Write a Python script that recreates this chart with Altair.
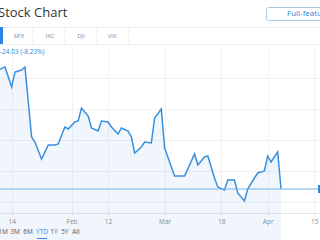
import altair as alt
import pandas as pd

FONT = "Open Sans"

TITLE = "Stock Chart"
BUTTON_TEXT = "Full-featured"
TABS = ["SPX", "IXC", "DJI", "VIX"]
CHANGE_TEXT = "-24.03 (-8.23%)"
RANGES = ["1M", "3M", "6M", "YTD", "1Y", "5Y", "All"]
SELECTED_RANGE = "YTD"

dates = [
    "2019-01-10", "2019-01-12", "2019-01-14", "2019-01-15", "2019-01-17", "2019-01-18",
    "2019-01-20", "2019-01-21", "2019-01-23", "2019-01-25", "2019-01-27", "2019-01-28",
    "2019-01-30", "2019-01-31", "2019-02-02", "2019-02-03", "2019-02-04", "2019-02-06",
    "2019-02-07", "2019-02-09", "2019-02-10", "2019-02-12", "2019-02-13", "2019-02-15",
    "2019-02-16", "2019-02-18", "2019-02-19", "2019-02-20", "2019-02-22", "2019-02-23",
    "2019-02-25", "2019-02-26", "2019-02-28", "2019-03-01", "2019-03-04", "2019-03-06",
    "2019-03-07", "2019-03-10", "2019-03-11", "2019-03-13", "2019-03-14", "2019-03-16",
    "2019-03-17", "2019-03-19", "2019-03-20", "2019-03-22", "2019-03-23", "2019-03-25",
    "2019-03-26", "2019-03-28", "2019-03-29", "2019-03-31", "2019-04-01", "2019-04-02",
    "2019-04-04", "2019-04-05",
]
prices = [
    307.74, 308.71, 302.26, 307.10, 307.74, 308.71,
    286.13, 284.52, 279.03, 283.55, 283.55, 283.87,
    289.35, 288.71, 290.97, 291.29, 295.48, 292.90,
    289.03, 288.06, 291.29, 290.97, 289.35, 287.10,
    289.03, 288.06, 286.13, 280.97, 282.90, 284.52,
    284.19, 292.26, 295.16, 282.58, 273.55, 273.55,
    273.55, 280.65, 277.10, 279.68, 280.00, 272.90,
    270.00, 269.03, 272.26, 272.26, 268.06, 265.48,
    269.35, 272.90, 274.52, 275.16, 280.00, 278.06,
    281.29, 269.35,
]
last_price = [prices[-1]]

tick_dates = ["2019-01-14", "2019-02-01", "2019-02-12", "2019-03-01",
              "2019-03-18", "2019-04-01", "2019-04-15"]
grid_prices = [265, 270, 275, 280, 285, 290, 295, 300, 305, 310]

df = pd.DataFrame({"date": dates, "price": prices})

LINE = "#3a8fdc"
BLUE = "#2a86e0"
W, H = 320, 166

xscale = alt.Scale(
    type="utc",
    domain=[alt.DateTime(year=2019, month=1, date=10, hours=11, minutes=50, utc=True),
            alt.DateTime(year=2019, month=4, date=16, hours=17, minutes=31, utc=True)],
)
yscale = alt.Scale(domain=[261.61, 315.16], zero=False, nice=False)

tick_vals = [alt.DateTime(year=int(d[:4]), month=int(d[5:7]), date=int(d[8:]), utc=True)
             for d in tick_dates]

x_enc = alt.X(
    "date:T", scale=xscale, title=None,
    axis=alt.Axis(
        values=tick_vals,
        labelExpr="utcdate(datum.value) == 1 ? utcFormat(datum.value, '%b') : utcFormat(datum.value, '%-d')",
        grid=True, gridColor="#eff2f7", gridWidth=1,
        tickColor="#e3e6ec", tickSize=3, domainColor="#e3e6ec",
        labelFontSize=6.5, labelColor="#8c8c8c", labelFont=FONT, labelPadding=2,
        labelFlush=False, labelOverlap=False,
    ),
)
y_enc = alt.Y(
    "price:Q", scale=yscale, title=None,
    axis=alt.Axis(values=grid_prices, grid=True, gridColor="#eff2f7", labels=False,
                  ticks=False, domain=False),
)

area = alt.Chart(df).mark_area(color=LINE, opacity=0.08).encode(x=x_enc, y=y_enc)
line = alt.Chart(df).mark_line(color=LINE, strokeWidth=1.5).encode(x="date:T", y="price:Q")
rule = alt.Chart(pd.DataFrame({"price": last_price})).mark_rule(
    color="#74b0e6", strokeWidth=1).encode(y="price:Q")
tag = alt.Chart(pd.DataFrame({"price": last_price})).mark_rect(color=BLUE).encode(
    x=alt.value(318), x2=alt.value(323), y=alt.value(138), y2=alt.value(146))


def text(s, x, y, size, color, align="left", weight="normal"):
    return alt.Chart(pd.DataFrame({"t": [s]})).mark_text(
        align=align, baseline="middle", font=FONT, fontSize=size, color=color,
        fontWeight=weight,
    ).encode(text="t:N", x=alt.value(x), y=alt.value(y))


def box(x, x2, y, y2, fill, stroke=None, radius=0):
    kw = dict(fill=fill, cornerRadius=radius)
    if stroke:
        kw["stroke"] = stroke
        kw["strokeWidth"] = 1
    return alt.Chart(pd.DataFrame({"k": [0]})).mark_rect(**kw).encode(
        x=alt.value(x), x2=alt.value(x2), y=alt.value(y), y2=alt.value(y2))


def hline(x, x2, y, color):
    return alt.Chart(pd.DataFrame({"k": [0]})).mark_rule(color=color, strokeWidth=1).encode(
        x=alt.value(x), x2=alt.value(x2), y=alt.value(y))


def vline(x, y, y2, color):
    return alt.Chart(pd.DataFrame({"k": [0]})).mark_rule(color=color, strokeWidth=1).encode(
        x=alt.value(x), y=alt.value(y), y2=alt.value(y2))


deco = [
    text(TITLE, -2, -34.5, 13, "#333333"),
    box(266.5, 330, -39.5, -26.5, "white", "#a8c9e8", 2),
    text(BUTTON_TEXT, 287, -33.5, 8, BLUE),
    hline(0, 320, -19.5, "#eceff3"),
    hline(0, 320, -2.5, "#eceff3"),
    box(-1, 3, -20, -3, BLUE),
    text(CHANGE_TEXT, 0, 5, 6.5, BLUE),
]
tab_x = [19, 50, 81, 112]
for s, xx in zip(TABS, tab_x):
    deco.append(text(s, xx, -11.5, 6, "#8a8a8a", align="center"))
for xx in [32.5, 64.5, 96.5, 128.5]:
    deco.append(vline(xx, -19.5, -2.5, "#f0f2f5"))
range_x = [3, 15, 28, 42, 54, 65, 76]
for s, xx in zip(RANGES, range_x):
    c = BLUE if s == SELECTED_RANGE else "#555555"
    deco.append(text(s, xx, 185, 6.5, c, align="center"))
deco.append(hline(37, 47, 191.5, BLUE))

chart = alt.layer(area, line, rule, tag, *deco).properties(
    width=W, height=H,
    autosize=alt.AutoSizeParams(type="none"),
    padding={"left": 0, "right": 0, "top": 47, "bottom": 27},
    background="white",
).configure_view(stroke=None)

chart.save("out.html", embed_options={"renderer": "svg", "actions": False})
